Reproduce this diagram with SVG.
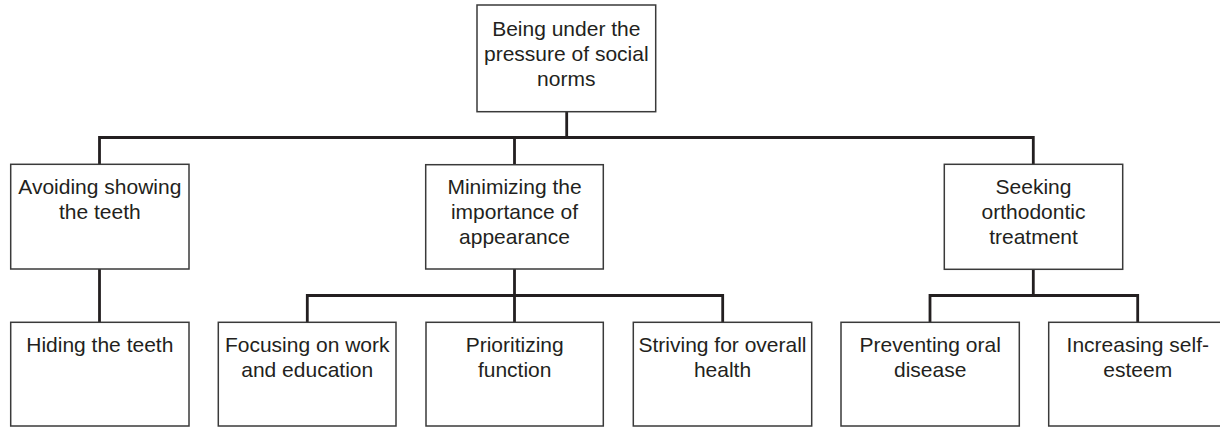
<svg xmlns="http://www.w3.org/2000/svg" width="1220" height="427" viewBox="0 0 1220 427">
<style>
.box{fill:#fff;stroke:#3a3a3a;stroke-width:1.5}
.t{font-family:"Liberation Sans",Arial,sans-serif;font-size:21px;fill:#231f20;text-anchor:middle}
.c{fill:none;stroke:#231f20;stroke-width:2.8;stroke-linejoin:miter;stroke-linecap:square}
</style>
<rect width="1220" height="427" fill="#fff"/>
<g id="connectors">
<path class="c" d="M566.7,112 V137.5 M99.5,137.5 H1033.3 M99.5,137.5 V164 M514.5,137.5 V164 M1033.3,137.5 V164"/>
<path class="c" d="M99.5,269 V322"/>
<path class="c" d="M514.5,269 V295.5 M307.3,295.5 H722.7 M307.3,295.5 V322 M514.5,295.5 V322 M722.7,295.5 V322"/>
<path class="c" d="M1033.3,269 V295.5 M930,295.5 H1137.7 M930,295.5 V322 M1137.7,295.5 V322"/>
</g>
<g id="n-root">
<rect class="box" x="477" y="5" width="178.7" height="106.7"/>
<text class="t" x="566.3" y="36">Being under the</text>
<text class="t" x="566.3" y="61">pressure of social</text>
<text class="t" x="566.3" y="86">norms</text>
</g>
<g id="n-avoiding">
<rect class="box" x="10.7" y="164.3" width="178.3" height="104.7"/>
<text class="t" x="99.8" y="194.3">Avoiding showing</text>
<text class="t" x="99.8" y="219.3">the teeth</text>
</g>
<g id="n-minimizing">
<rect class="box" x="425.7" y="164.7" width="177.6" height="104.3"/>
<text class="t" x="514.5" y="194.3">Minimizing the</text>
<text class="t" x="514.5" y="219.3">importance of</text>
<text class="t" x="514.5" y="244.3">appearance</text>
</g>
<g id="n-seeking">
<rect class="box" x="944.3" y="164.3" width="178.4" height="105"/>
<text class="t" x="1033.5" y="194.3">Seeking</text>
<text class="t" x="1033.5" y="219.3">orthodontic</text>
<text class="t" x="1033.5" y="244.3">treatment</text>
</g>
<g id="n-hiding">
<rect class="box" x="10.7" y="322.3" width="178.3" height="103.7"/>
<text class="t" x="99.8" y="352">Hiding the teeth</text>
</g>
<g id="n-focusing">
<rect class="box" x="218.3" y="322.3" width="177.7" height="103.7"/>
<text class="t" x="307.2" y="352">Focusing on work</text>
<text class="t" x="307.2" y="377">and education</text>
</g>
<g id="n-prioritizing">
<rect class="box" x="426" y="322.3" width="177.3" height="103.7"/>
<text class="t" x="514.7" y="352">Prioritizing</text>
<text class="t" x="514.7" y="377">function</text>
</g>
<g id="n-striving">
<rect class="box" x="633.3" y="322.3" width="178.4" height="103.7"/>
<text class="t" x="722.5" y="352">Striving for overall</text>
<text class="t" x="722.5" y="377">health</text>
</g>
<g id="n-preventing">
<rect class="box" x="841" y="322.3" width="178.3" height="103.7"/>
<text class="t" x="930.2" y="352">Preventing oral</text>
<text class="t" x="930.2" y="377">disease</text>
</g>
<g id="n-increasing">
<rect class="box" x="1048.7" y="322.3" width="178.3" height="103.7"/>
<text class="t" x="1137.8" y="352">Increasing self-</text>
<text class="t" x="1137.8" y="377">esteem</text>
</g>
</svg>
